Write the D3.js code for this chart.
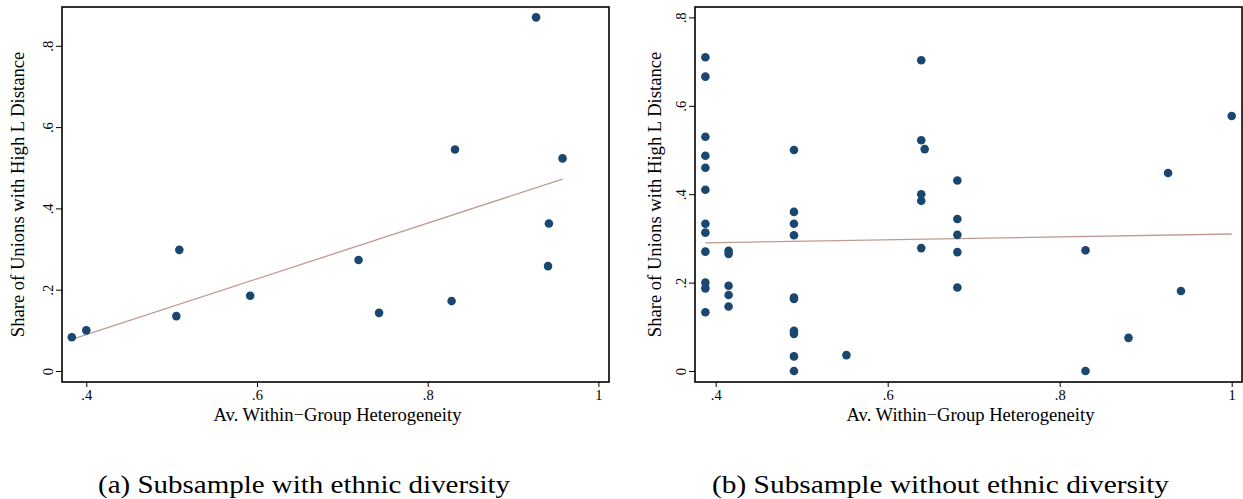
<!DOCTYPE html>
<html><head><meta charset="utf-8">
<script src="https://cdn.jsdelivr.net/npm/d3@7"></script>
<style>body{margin:0;background:#fff}svg{display:block}</style>
</head><body>
<svg id="c" width="1243" height="499"></svg>
<script>
// Panel (a): subsample with ethnic diversity
const xA = [0.383,0.400,0.509,0.5055,0.592,0.719,0.743,0.828,0.832,0.927,0.958,0.942,0.941];
const yA = [0.083,0.100,0.298,0.135,0.185,0.273,0.143,0.172,0.545,0.870,0.523,0.363,0.258];
const fitA = [[0.383,0.078],[0.958,0.472]];
// Panel (b): subsample without ethnic diversity
const xB = [0.388,0.388,0.388,0.388,0.388,0.388,0.388,0.388,0.388,0.388,0.388,0.388,
            0.415,0.415,0.415,0.415,0.415,
            0.491,0.491,0.491,0.491,0.491,0.491,0.491,0.491,0.491,0.491,
            0.552,
            0.639,0.639,0.639,0.639,0.639,0.643,
            0.681,0.681,0.681,0.681,0.681,
            0.830,0.830,0.880,0.926,0.941,1.000];
const yB = [0.710,0.666,0.530,0.487,0.460,0.410,0.333,0.313,0.270,0.200,0.187,0.133,
            0.272,0.265,0.193,0.172,0.146,
            0.500,0.360,0.333,0.307,0.166,0.163,0.091,0.084,0.033,0.000,
            0.036,
            0.703,0.522,0.400,0.385,0.278,0.502,
            0.431,0.344,0.308,0.269,0.189,
            0.273,0.000,0.075,0.448,0.181,0.577];
const fitB = [[0.388,0.290],[1.000,0.310]];

const xTicks = [0.4,0.6,0.8,1];
const yTicksA = [0,0.2,0.4,0.6,0.8];
const yTicksB = [0,0.2,0.4,0.6,0.8];
const fmt = v => v===0?"0":(v===1?"1":String(v).replace(/^0/,""));
const xTitle = "Av. Within\u2212Group Heterogeneity";
const yTitle = "Share of Unions with High L Distance";
const captions = ["(a) Subsample with ethnic diversity","(b) Subsample without ethnic diversity"];

const FONT = '"Liberation Serif", serif';
const svg = d3.select("#c");
const dotColor = "#1a476f", lineColor = "#bf9a92";

function panel(cfg){
  const g = svg.append("g");
  const x = d3.scaleLinear().domain(cfg.xd).range([cfg.l,cfg.r]);
  const y = d3.scaleLinear().domain(cfg.yd).range([cfg.b,cfg.t]);
  const xa = g.append("g").attr("transform",`translate(0,${cfg.b})`)
    .call(d3.axisBottom(x).tickValues(xTicks).tickFormat(fmt).tickSize(5).tickPadding(3));
  xa.attr("font-family",FONT).attr("font-size",14.5);
  xa.select(".domain").remove();
  xa.selectAll("text").attr("fill","#000");
  xa.selectAll("line").attr("stroke","#000");
  const ya = g.append("g").attr("transform",`translate(${cfg.l},0)`)
    .call(d3.axisLeft(y).tickValues(cfg.yt).tickFormat(fmt).tickSize(6).tickPadding(3));
  ya.attr("font-family",FONT).attr("font-size",14.5);
  ya.select(".domain").remove();
  ya.selectAll("line").attr("stroke","#000");
  ya.selectAll("text").attr("x",null).attr("dy",null).attr("text-anchor","middle")
    .attr("transform","translate(-14,0) rotate(-90) translate(0,5)").attr("fill","#000");
  g.append("rect").attr("x",cfg.l).attr("y",cfg.t).attr("width",cfg.r-cfg.l).attr("height",cfg.b-cfg.t)
    .attr("fill","none").attr("stroke","#000").attr("stroke-width",1.6);
  g.append("path").datum(cfg.fit).attr("fill","none").attr("stroke",lineColor).attr("stroke-width",1.3)
    .attr("d",d3.line().x(d=>x(d[0])).y(d=>y(d[1])));
  g.selectAll("circle.pt").data(cfg.xs.map((v,i)=>[v,cfg.ys[i]])).join("circle")
    .attr("class","pt").attr("cx",d=>x(d[0])).attr("cy",d=>y(d[1])).attr("r",4.3).attr("fill",dotColor);
  g.append("text").attr("x",(cfg.l+cfg.r)/2+2).attr("y",421).attr("text-anchor","middle")
    .attr("font-family",FONT).attr("font-size",18.6).text(xTitle);
  g.append("text").attr("transform",`translate(${cfg.yx},${(cfg.t+cfg.b)/2}) rotate(-90)`)
    .attr("text-anchor","middle").attr("font-family",FONT).attr("font-size",18.6).text(yTitle);
  g.append("text").attr("x",cfg.capx).attr("y",493).attr("text-anchor","start")
    .attr("textLength",cfg.capw).attr("lengthAdjust","spacingAndGlyphs")
    .attr("font-family",FONT).attr("font-size",26).text(cfg.cap);
}

panel({l:62,r:609,t:7,b:382,xd:[0.4-24.3/853.5,0.4+522.7/853.5],yd:[(371-382)/406.5,(371-7)/406.5],
  yt:yTicksA,xs:xA,ys:yA,fit:fitA,yx:24,cap:captions[0],capx:98,capw:412});
panel({l:695,r:1242,t:7,b:382,xd:[0.4-20.7/860,0.4+526.3/860],yd:[(371-382)/442,(371-7)/442],
  yt:yTicksB,xs:xB,ys:yB,fit:fitB,yx:661,cap:captions[1],capx:712,capw:457});
</script>
</body></html>
